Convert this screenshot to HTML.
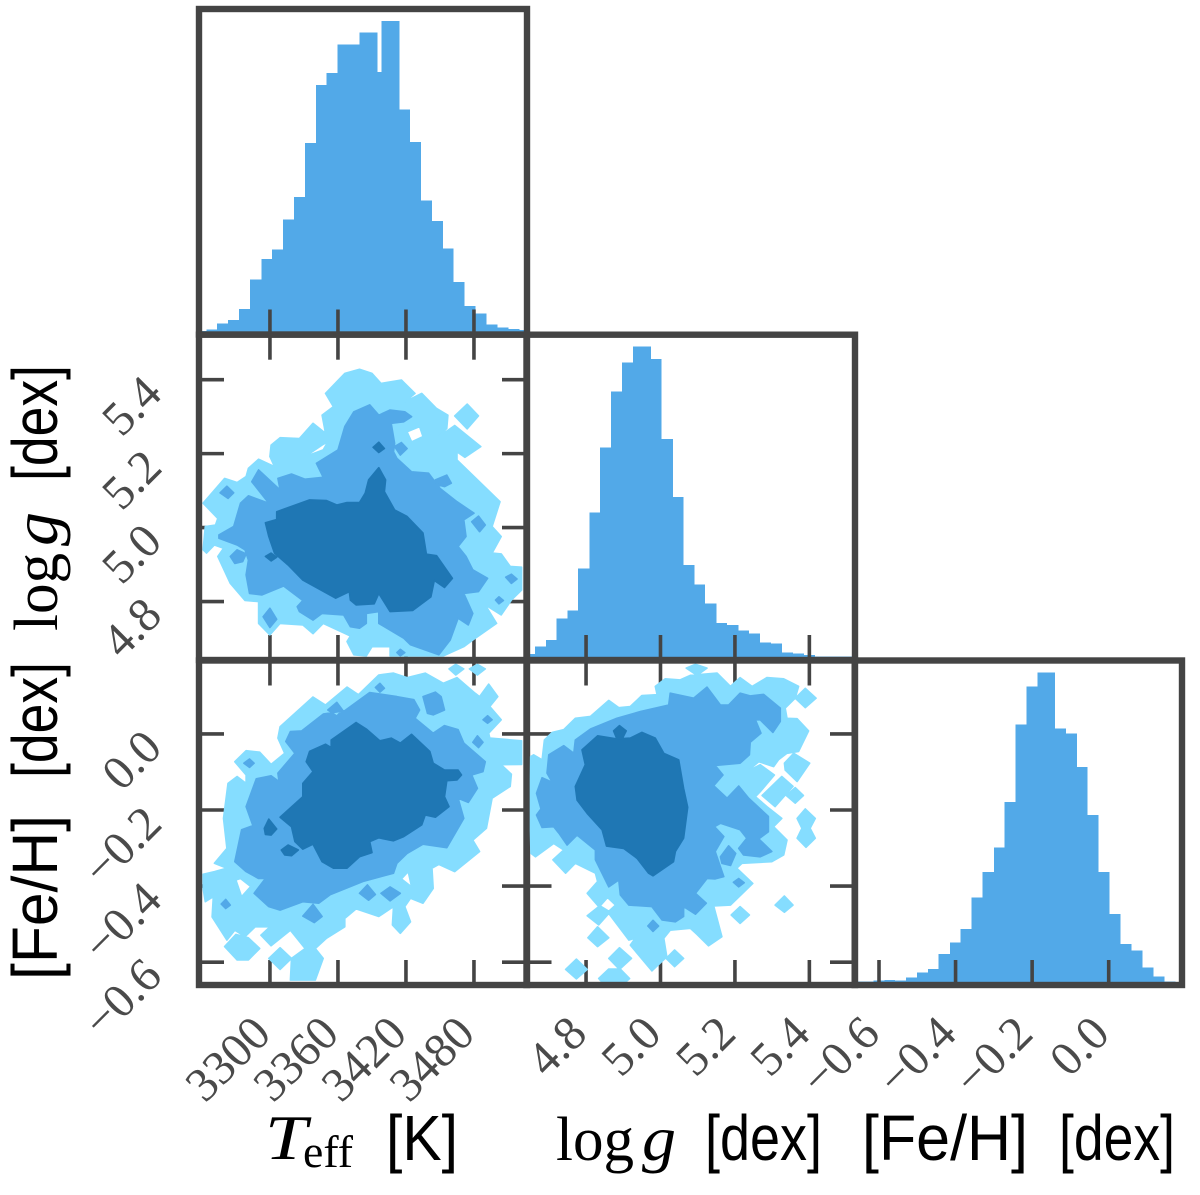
<!DOCTYPE html>
<html lang="en">
<head>
<meta charset="utf-8">
<title>Corner plot of stellar parameters</title>
<style>
html,body{margin:0;padding:0;background:#fff;}
svg{display:block;}
.tick-label{font-family:"Liberation Serif",serif;font-size:48px;fill:#4a4a4a;}
.title-sans{font-family:"Liberation Sans",sans-serif;font-size:64px;fill:#000;}
.title-serif{font-family:"Liberation Serif",serif;font-size:62px;fill:#000;}
.title-ital{font-family:"Liberation Serif",serif;font-size:64px;font-style:italic;fill:#000;}
.title-sub{font-family:"Liberation Serif",serif;font-size:46px;fill:#000;}
</style>
</head>
<body>
<svg id="chart" xmlns="http://www.w3.org/2000/svg" width="1200" height="1195" viewBox="0 0 1200 1195"></svg>
<script>
// ---- tick values and labels ----
const teffTicks = [3300, 3360, 3420, 3480];
const teffTickLabels = ["3300", "3360", "3420", "3480"];
const loggTicks = [4.8, 5.0, 5.2, 5.4];
const loggTickLabels = ["4.8", "5.0", "5.2", "5.4"];
const fehTicks = [-0.6, -0.4, -0.2, 0.0];
const fehTickLabels = ["\u22120.6", "\u22120.4", "\u22120.2", "0.0"];

// ---- histograms: bin edges (data units) and counts ----
const teffEdges = [3237.4,3244.1,3253.5,3263.2,3272.9,3282.6,3292.4,3301.8,3311.5,3321.2,3330.9,3340.6,3350,3359.7,3379.1,3394.7,3398.5,3414.1,3423.5,3433.2,3442.9,3452.6,3462,3471.8,3481.5,3491.2,3500.9,3510.3,3520,3526.8];
const teffCounts = [11,15,33,43,77,165,226,255,345,413,575,748,785,870,906,788,941,675,578,402,341,258,158,85,63,30,21,16,13];
const loggEdges = [4.64,4.663,4.692,4.72,4.75,4.779,4.809,4.838,4.867,4.897,4.926,4.974,5.003,5.033,5.062,5.091,5.12,5.15,5.179,5.209,5.238,5.267,5.297,5.326,5.356,5.385,5.415,5.444,5.474,5.523];
const loggCounts = [18,40,60,124,148,274,443,638,806,893,940,903,663,489,285,227,170,111,105,89,79,53,49,22,20,15,11,11,10];
const fehEdges = [-0.6636,-0.615,-0.586,-0.558,-0.529,-0.501,-0.472,-0.444,-0.415,-0.387,-0.358,-0.329,-0.3,-0.272,-0.244,-0.215,-0.186,-0.14,-0.111,-0.083,-0.055,-0.026,0.002,0.031,0.059,0.088,0.117,0.146,0.174,0.192];
const fehCounts = [10,14,15,14,22,38,48,93,128,168,262,339,412,549,782,896,937,770,754,654,510,339,213,123,104,53,26,10,8];

// ---- 2D credible regions: rings of [x value, y value] in data units ----
const teffLoggOuter = [
[[3241,5.066],[3260,5.133],[3271,5.122],[3279,5.138],[3281,5.16],[3290,5.185],[3304,5.165],[3300,5.192],[3301,5.223],[3309,5.243],[3326,5.241],[3338,5.282],[3349,5.255],[3346,5.304],[3356,5.327],[3349,5.363],[3366,5.417],[3379,5.428],[3390,5.417],[3398,5.39],[3416,5.399],[3428,5.363],[3419,5.34],[3434,5.363],[3447,5.322],[3457,5.304],[3456,5.268],[3449,5.246],[3463,5.276],[3486,5.219],[3472,5.19],[3465,5.205],[3465,5.183],[3503,5.07],[3496,5.003],[3504,4.976],[3496,4.931],[3504,4.929],[3512,4.895],[3522,4.893],[3522,4.831],[3513,4.804],[3504,4.764],[3490,4.791],[3500,4.741],[3479,4.696],[3471,4.678],[3453,4.653],[3406,4.653],[3406,4.678],[3390,4.678],[3385,4.653],[3374,4.656],[3368,4.692],[3371,4.707],[3347,4.741],[3338,4.713],[3329,4.737],[3309,4.741],[3300,4.71],[3290,4.741],[3290,4.8],[3278,4.803],[3265,4.849],[3254,4.922],[3259,4.944],[3251,4.953],[3244,4.931],[3241,4.94],[3243,5.003],[3252,5.007],[3254,5.025]],
[[3474,5.334],[3484,5.302],[3474,5.267],[3463,5.302]],
[[3421,5.259],[3432,5.273],[3435,5.246],[3425,5.232]],
[[3331,5.192],[3346,5.223],[3351,5.232],[3347,5.21]]
];
const teffLoggMiddle = [
[[3255,4.98],[3268,5.003],[3274,5.066],[3281,5.086],[3299,5.066],[3284,5.124],[3290,5.156],[3309,5.102],[3307,5.133],[3319,5.145],[3331,5.131],[3347,5.136],[3341,5.174],[3360,5.21],[3366,5.273],[3374,5.313],[3388,5.332],[3396,5.304],[3406,5.318],[3419,5.313],[3425,5.3],[3418,5.286],[3407,5.282],[3410,5.228],[3409,5.205],[3412,5.187],[3425,5.151],[3440,5.147],[3450,5.106],[3465,5.07],[3480,5.039],[3471,5.021],[3473,4.976],[3466,4.949],[3473,4.922],[3479,4.886],[3492,4.863],[3484,4.827],[3471,4.822],[3479,4.768],[3475,4.737],[3466,4.755],[3459,4.696],[3449,4.656],[3424,4.683],[3418,4.701],[3396,4.741],[3396,4.773],[3385,4.768],[3385,4.741],[3379,4.728],[3371,4.732],[3365,4.764],[3346,4.768],[3338,4.75],[3326,4.773],[3324,4.786],[3329,4.803],[3312,4.842],[3293,4.818],[3282,4.822],[3279,4.872],[3281,4.912],[3278,4.94],[3271,4.953],[3255,4.971]],
[[3265,4.922],[3271,4.94],[3279,4.929],[3276,4.908],[3269,4.903]],
[[3256,5.094],[3262,5.112],[3268,5.094],[3263,5.079]],
[[3410,5.219],[3416,5.23],[3421,5.214],[3415,5.196]],
[[3446,5.129],[3456,5.142],[3460,5.12],[3454,5.111],[3449,5.115]],
[[3478,5.016],[3484,5.031],[3490,5.007],[3485,4.989]],
[[3508,4.866],[3513,4.874],[3518,4.861],[3513,4.849]],
[[3499,4.804],[3502,4.813],[3506,4.803],[3502,4.794]],
[[3294,4.759],[3300,4.782],[3306,4.752],[3300,4.73]],
[[3412,4.662],[3415,4.671],[3419,4.662],[3415,4.653]]
];
const teffLoggInner = [
[[3296,5.013],[3306,5.022],[3306,5.043],[3335,5.075],[3350,5.073],[3359,5.061],[3368,5.068],[3379,5.068],[3384,5.093],[3387,5.129],[3396,5.162],[3402,5.129],[3401,5.097],[3410,5.048],[3421,5.03],[3435,4.985],[3438,4.928],[3447,4.924],[3461,4.863],[3454,4.838],[3445,4.857],[3442,4.813],[3426,4.776],[3406,4.773],[3396,4.822],[3392,4.794],[3376,4.791],[3371,4.804],[3370,4.827],[3358,4.809],[3329,4.858],[3316,4.899],[3304,4.931],[3299,4.976]],
[[3391,5.217],[3396,5.231],[3401,5.214],[3396,5.203]],
[[3296,4.922],[3301,4.931],[3306,4.92],[3301,4.91]]
];

const teffFehOuter = [
[[3241,-0.369],[3251,-0.362],[3262,-0.353],[3251,-0.34],[3262,-0.301],[3259,-0.222],[3263,-0.13],[3271,-0.112],[3279,-0.13],[3279,-0.108],[3269,-0.073],[3279,-0.044],[3291,-0.048],[3301,-0.08],[3313,-0.051],[3307,-0.011],[3309,0.019],[3338,0.097],[3349,0.076],[3368,0.123],[3378,0.103],[3396,0.155],[3409,0.16],[3421,0.148],[3437,0.16],[3453,0.133],[3465,0.148],[3481,0.107],[3485,0.098],[3493,0.131],[3501,0.098],[3494,0.072],[3504,0.037],[3493,0.002],[3494,-0.011],[3522,-0.018],[3522,-0.08],[3504,-0.081],[3513,-0.106],[3512,-0.138],[3496,-0.169],[3491,-0.248],[3479,-0.279],[3485,-0.309],[3463,-0.362],[3449,-0.343],[3443,-0.353],[3444,-0.406],[3435,-0.445],[3424,-0.432],[3419,-0.454],[3424,-0.494],[3415,-0.524],[3408,-0.502],[3409,-0.454],[3396,-0.48],[3376,-0.46],[3366,-0.485],[3366,-0.507],[3350,-0.537],[3340,-0.564],[3347,-0.59],[3340,-0.647],[3318,-0.647],[3319,-0.59],[3331,-0.564],[3318,-0.516],[3301,-0.557],[3292,-0.529],[3300,-0.507],[3293,-0.507],[3287,-0.507],[3278,-0.533],[3269,-0.516],[3262,-0.542],[3249,-0.481],[3250,-0.428],[3243,-0.441],[3241,-0.406]],
[[3260,-0.559],[3270,-0.527],[3281,-0.536],[3291,-0.564],[3281,-0.594],[3271,-0.594]],
[[3299,-0.59],[3309,-0.562],[3319,-0.59],[3309,-0.619]],
[[3458,0.171],[3464,0.183],[3471,0.171],[3464,0.155]],
[[3476,0.171],[3483,0.183],[3490,0.171],[3483,0.155]],
[[3270,-0.384],[3274,-0.38],[3283,-0.401],[3275,-0.428]],
[[3416,-0.381],[3422,-0.362],[3425,-0.402]]
];
const teffFehMiddle = [
[[3269,-0.336],[3275,-0.252],[3285,-0.241],[3279,-0.191],[3288,-0.118],[3301,-0.11],[3308,-0.125],[3307,-0.103],[3322,-0.051],[3314,-0.02],[3318,0.006],[3328,0.008],[3347,0.052],[3366,0.061],[3388,0.109],[3412,0.098],[3427,0.09],[3432,0.063],[3428,0.041],[3444,0.002],[3454,0.022],[3466,0.011],[3471,-0.024],[3490,-0.073],[3488,-0.099],[3478,-0.108],[3483,-0.143],[3475,-0.18],[3466,-0.169],[3471,-0.222],[3456,-0.299],[3435,-0.29],[3421,-0.314],[3412,-0.34],[3409,-0.366],[3382,-0.388],[3353,-0.423],[3343,-0.445],[3329,-0.441],[3309,-0.463],[3299,-0.454],[3286,-0.419],[3296,-0.38],[3290,-0.38],[3279,-0.362]],
[[3351,0.063],[3359,0.083],[3364,0.063],[3359,0.047]],
[[3435,0.098],[3446,0.11],[3451,0.098],[3454,0.063],[3444,0.05],[3439,0.054]],
[[3479,-0.022],[3483,-0.005],[3488,-0.022],[3484,-0.036]],
[[3488,0.037],[3492,0.048],[3496,0.037],[3492,0.028]],
[[3277,-0.077],[3282,-0.066],[3286,-0.077],[3282,-0.088]],
[[3393,0.122],[3397,0.133],[3401,0.12],[3397,0.11]],
[[3257,-0.447],[3261,-0.435],[3265,-0.45],[3261,-0.459]],
[[3379,-0.419],[3386,-0.397],[3393,-0.422],[3387,-0.437]],
[[3398,-0.419],[3406,-0.402],[3415,-0.419],[3406,-0.439]],
[[3329,-0.479],[3338,-0.448],[3346,-0.48],[3339,-0.496]]
];
const teffFehInner = [
[[3309,-0.219],[3329,-0.165],[3329,-0.13],[3338,-0.099],[3332,-0.073],[3335,-0.046],[3349,-0.027],[3354,-0.036],[3354,-0.016],[3376,0.03],[3385,0.013],[3397,-0.018],[3407,-0.011],[3415,-0.024],[3425,-0.001],[3441,-0.046],[3444,-0.077],[3454,-0.095],[3466,-0.095],[3469,-0.108],[3465,-0.121],[3456,-0.123],[3454,-0.165],[3458,-0.191],[3446,-0.219],[3437,-0.213],[3434,-0.239],[3418,-0.27],[3409,-0.281],[3396,-0.273],[3388,-0.283],[3390,-0.312],[3379,-0.323],[3368,-0.353],[3356,-0.353],[3346,-0.336],[3338,-0.29],[3329,-0.303],[3322,-0.283],[3319,-0.244]],
[[3295,-0.248],[3299,-0.224],[3306,-0.25],[3301,-0.266],[3296,-0.264]],
[[3310,-0.305],[3316,-0.292],[3325,-0.305],[3319,-0.32],[3313,-0.318]]
];

const loggFehOuter = [
[[4.651,-0.06],[4.659,-0.055],[4.682,-0.068],[4.688,-0.016],[4.709,0.004],[4.74,0.011],[4.771,0.041],[4.812,0.046],[4.861,0.088],[4.888,0.069],[4.919,0.072],[4.95,0.101],[4.991,0.103],[4.986,0.125],[5.013,0.145],[5.053,0.142],[5.08,0.154],[5.152,0.16],[5.188,0.125],[5.214,0.148],[5.246,0.125],[5.286,0.148],[5.331,0.145],[5.371,0.125],[5.362,0.094],[5.335,0.068],[5.34,0.041],[5.367,0.04],[5.398,0.008],[5.371,-0.046],[5.34,-0.051],[5.317,-0.068],[5.304,-0.086],[5.264,-0.073],[5.232,-0.099],[5.268,-0.081],[5.306,-0.108],[5.268,-0.152],[5.255,-0.165],[5.286,-0.191],[5.326,-0.222],[5.304,-0.244],[5.34,-0.279],[5.331,-0.318],[5.299,-0.336],[5.219,-0.34],[5.205,-0.353],[5.248,-0.393],[5.188,-0.45],[5.143,-0.452],[5.165,-0.533],[5.129,-0.557],[5.098,-0.527],[5.08,-0.511],[5.026,-0.516],[5.009,-0.537],[5.017,-0.586],[4.977,-0.623],[4.919,-0.555],[4.932,-0.537],[4.915,-0.542],[4.861,-0.472],[4.834,-0.502],[4.803,-0.478],[4.834,-0.454],[4.803,-0.419],[4.831,-0.388],[4.825,-0.366],[4.771,-0.34],[4.745,-0.366],[4.711,-0.331],[4.74,-0.305],[4.713,-0.288],[4.664,-0.323],[4.652,-0.314],[4.649,-0.213]],
[[4.838,-0.452],[4.858,-0.43],[4.879,-0.45],[4.861,-0.466]],
[[5.333,-0.077],[5.358,-0.051],[5.401,-0.077],[5.367,-0.125],[5.335,-0.095]],
[[5.273,-0.162],[5.326,-0.112],[5.356,-0.138],[5.308,-0.191]],
[[5.338,-0.162],[5.362,-0.141],[5.384,-0.162],[5.362,-0.182]],
[[5.367,-0.222],[5.389,-0.197],[5.416,-0.222],[5.402,-0.248],[5.416,-0.274],[5.391,-0.298],[5.367,-0.274],[5.38,-0.248]],
[[5.362,0.094],[5.389,0.12],[5.418,0.094],[5.389,0.069]],
[[5.308,-0.45],[5.333,-0.426],[5.356,-0.45],[5.333,-0.469]],
[[5.19,-0.476],[5.214,-0.454],[5.239,-0.476],[5.214,-0.498]],
[[4.805,-0.536],[4.831,-0.507],[4.861,-0.536],[4.831,-0.559]],
[[4.861,-0.59],[4.89,-0.562],[4.922,-0.59],[4.89,-0.619]],
[[5.015,-0.59],[5.038,-0.568],[5.062,-0.59],[5.038,-0.612]],
[[4.745,-0.619],[4.774,-0.592],[4.803,-0.619],[4.774,-0.644]],
[[4.834,-0.643],[4.861,-0.618],[4.892,-0.618],[4.917,-0.643],[4.906,-0.653],[4.843,-0.653]],
[[5.069,0.173],[5.094,0.183],[5.125,0.173],[5.098,0.154]]
];
const loggFehMiddle = [
[[4.667,-0.156],[4.682,-0.115],[4.709,-0.127],[4.695,-0.103],[4.7,-0.055],[4.74,-0.031],[4.767,-0.051],[4.771,-0.016],[4.812,0.013],[4.883,0.041],[4.946,0.059],[5.022,0.076],[5.026,0.107],[5.089,0.094],[5.125,0.123],[5.161,0.076],[5.183,0.076],[5.214,0.107],[5.241,0.1],[5.277,0.104],[5.322,0.068],[5.322,0.033],[5.302,0.004],[5.268,0.037],[5.255,0.037],[5.27,0.002],[5.241,-0.022],[5.239,-0.055],[5.214,-0.077],[5.147,-0.083],[5.168,-0.108],[5.143,-0.136],[5.179,-0.169],[5.21,-0.137],[5.237,-0.169],[5.29,-0.217],[5.29,-0.257],[5.264,-0.276],[5.299,-0.309],[5.268,-0.323],[5.223,-0.318],[5.21,-0.301],[5.232,-0.274],[5.214,-0.252],[5.161,-0.235],[5.145,-0.244],[5.17,-0.27],[5.147,-0.309],[5.161,-0.349],[5.17,-0.375],[5.147,-0.381],[5.125,-0.38],[5.094,-0.419],[5.123,-0.445],[5.094,-0.474],[5.062,-0.454],[5.062,-0.48],[5.04,-0.494],[5.004,-0.489],[4.977,-0.454],[4.915,-0.45],[4.892,-0.423],[4.888,-0.384],[4.861,-0.402],[4.825,-0.331],[4.825,-0.305],[4.776,-0.266],[4.749,-0.292],[4.727,-0.261],[4.713,-0.244],[4.682,-0.246],[4.667,-0.213],[4.679,-0.197]],
[[5.161,-0.323],[5.183,-0.294],[5.202,-0.314],[5.188,-0.346],[5.165,-0.34]],
[[5.196,-0.39],[5.21,-0.38],[5.225,-0.391],[5.21,-0.402]],
[[4.966,-0.505],[4.98,-0.49],[4.995,-0.505],[4.98,-0.519]]
];
const loggFehInner = [
[[4.771,-0.138],[4.798,-0.081],[4.789,-0.042],[4.831,-0.005],[4.883,-0.013],[4.919,-0.011],[4.95,0.004],[4.986,-0.011],[5.009,-0.051],[5.049,-0.068],[5.062,-0.143],[5.073,-0.193],[5.062,-0.274],[5.04,-0.309],[5.035,-0.336],[4.98,-0.373],[4.968,-0.366],[4.937,-0.327],[4.901,-0.301],[4.855,-0.295],[4.843,-0.252],[4.803,-0.209],[4.776,-0.174]],
[[4.874,0.008],[4.89,0.022],[4.908,0.008],[4.897,-0.013],[4.883,-0.013]]
];

// ---- rendering ----
const NS = 'http://www.w3.org/2000/svg';
const svg = document.getElementById('chart');
const INK = '#444444';
const LIGHT = '#85DDFF';
const MID = '#52A9E8';
const DARK = '#1F77B4';
const TICK_LEN = 25;

function linear(d0, d1, r0, r1) {
  return function (v) { return r0 + (v - d0) * (r1 - r0) / (d1 - d0); };
}
function node(tag, attrs) {
  const el = document.createElementNS(NS, tag);
  for (const k in attrs) el.setAttribute(k, attrs[k]);
  return el;
}

// pixel boxes of the grid columns and rows
const colBoxes = [[199, 527], [526.5, 855], [854.7, 1182]];
const rowBoxes = [[9, 334.5], [334.7, 660], [660.5, 985]];

const xTeff = linear(3237.4, 3526.8, colBoxes[0][0], colBoxes[0][1]);
const xLogg = linear(4.64, 5.5226, colBoxes[1][0], colBoxes[1][1]);
const xFeh = linear(-0.6635, 0.1915, colBoxes[2][0], colBoxes[2][1]);
const yLogg = linear(5.5216, 4.642, rowBoxes[1][0], rowBoxes[1][1]);
const yFeh = linear(0.193, -0.66, rowBoxes[2][0], rowBoxes[2][1]);
const COUNT_PER_PX = 3;

function drawHist(group, edges, counts, xScale, baseY) {
  for (let i = 0; i < counts.length; i++) {
    const x0 = xScale(edges[i]);
    const x1 = xScale(edges[i + 1]);
    const h = counts[i] / COUNT_PER_PX;
    const bar = node('rect', { x: x0, y: baseY - h, width: x1 - x0, height: h, fill: MID, 'shape-rendering': 'crispEdges' });
    
    
    group.appendChild(bar);
  }
}

function ringsToPath(rings, xScale, yScale) {
  return rings.map(function (ring) {
    return 'M' + ring.map(function (p) {
      return xScale(p[0]).toFixed(1) + ' ' + yScale(p[1]).toFixed(1);
    }).join('L') + 'Z';
  }).join('');
}

function drawContour(group, rings, xScale, yScale, color) {
  const path = node('path', { d: ringsToPath(rings, xScale, yScale), fill: color, stroke: color, 'stroke-width': 1.6, 'fill-rule': 'evenodd', 'stroke-linejoin': 'round' });
  
  
  group.appendChild(path);
}

function vTick(group, x, y0, y1) {
  const t = node('line', { x1: x, x2: x, y1: y0, y2: y1, stroke: INK, 'stroke-width': 3.6 });
  
  
  group.appendChild(t);
}
function hTick(group, y, x0, x1) {
  const t = node('line', { x1: x0, x2: x1, y1: y, y2: y, stroke: INK, 'stroke-width': 3.6 });
  
  
  group.appendChild(t);
}
function frame(group, col, row) {
  const r = node('rect', { x: col[0], y: row[0], width: col[1] - col[0], height: row[1] - row[0], fill: 'none', stroke: INK, 'stroke-width': 6.4, 'stroke-linejoin': 'miter' });
  
  
  group.appendChild(r);
}

function histPanel(name, col, row, edges, counts, xScale, xTicks) {
  const g = node('g', {});
  
  
  svg.appendChild(g);
  drawHist(g, edges, counts, xScale, row[1]);
  xTicks.forEach(function (v) { vTick(g, xScale(v), row[1], row[1] - TICK_LEN); });
  frame(g, col, row);
}

function jointPanel(name, col, row, xScale, yScale, xTicks, yTicks, outer, middle, inner) {
  const g = node('g', {});
  
  
  svg.appendChild(g);
  xTicks.forEach(function (v) {
    vTick(g, xScale(v), row[1], row[1] - TICK_LEN);
    vTick(g, xScale(v), row[0], row[0] + TICK_LEN);
  });
  yTicks.forEach(function (v) {
    hTick(g, yScale(v), col[0], col[0] + TICK_LEN);
    hTick(g, yScale(v), col[1], col[1] - TICK_LEN);
  });
  drawContour(g, outer, xScale, yScale, LIGHT);
  drawContour(g, middle, xScale, yScale, MID);
  drawContour(g, inner, xScale, yScale, DARK);
  frame(g, col, row);
}

histPanel('teff-histogram-panel', colBoxes[0], rowBoxes[0], teffEdges, teffCounts, xTeff, teffTicks);
histPanel('logg-histogram-panel', colBoxes[1], rowBoxes[1], loggEdges, loggCounts, xLogg, loggTicks);
histPanel('feh-histogram-panel', colBoxes[2], rowBoxes[2], fehEdges, fehCounts, xFeh, fehTicks);
jointPanel('teff-logg-contour-panel', colBoxes[0], rowBoxes[1], xTeff, yLogg, teffTicks, loggTicks, teffLoggOuter, teffLoggMiddle, teffLoggInner);
jointPanel('teff-feh-contour-panel', colBoxes[0], rowBoxes[2], xTeff, yFeh, teffTicks, fehTicks, teffFehOuter, teffFehMiddle, teffFehInner);
jointPanel('logg-feh-contour-panel', colBoxes[1], rowBoxes[2], xLogg, yFeh, loggTicks, fehTicks, loggFehOuter, loggFehMiddle, loggFehInner);

function xTickLabels(values, labels, xScale) {
  values.forEach(function (v, i) {
    const ax = xScale(v) + 3;
    const ay = 1036;
    const t = node('text', { x: ax, y: ay, 'text-anchor': 'end', transform: 'rotate(-45 ' + ax + ' ' + ay + ')', 'class': 'tick-label' });
    
    
    t.textContent = labels[i];
    svg.appendChild(t);
  });
}
function yTickLabels(values, labels, yScale) {
  values.forEach(function (v, i) {
    const ax = 164;
    const ay = yScale(v) + 16;
    const t = node('text', { x: ax, y: ay, 'text-anchor': 'end', transform: 'rotate(-45 ' + ax + ' ' + ay + ')', 'class': 'tick-label' });
    
    
    t.textContent = labels[i];
    svg.appendChild(t);
  });
}
xTickLabels(teffTicks, teffTickLabels, xTeff);
xTickLabels(loggTicks, loggTickLabels, xLogg);
xTickLabels(fehTicks, fehTickLabels, xFeh);
yTickLabels(loggTicks, loggTickLabels, yLogg);
yTickLabels(fehTicks, fehTickLabels, yFeh);
</script>

<script>
// ---- axis titles ----
(function () {
  function title(cls, x, y, text, len, rot, name) {
    const t = node('text', { x: x, y: y, 'class': cls });
    if (len) { t.setAttribute('textLength', len); t.setAttribute('lengthAdjust', 'spacingAndGlyphs'); }
    if (rot) t.setAttribute('transform', 'rotate(-90 ' + x + ' ' + y + ')');
    
    
    t.textContent = text;
    svg.appendChild(t);
  }
  // x axis titles
  title('title-ital', 265, 1159, 'T', 42, false, 'teff-title-symbol');
  title('title-sub', 303, 1167, 'eff', 50, false, 'teff-title-subscript');
  title('title-sans', 386, 1160, '[K]', 72, false, 'teff-title-unit');
  title('title-serif', 556, 1160, 'log', 78, false, 'logg-title-log');
  title('title-ital', 642, 1160, 'g', 34, false, 'logg-title-g');
  title('title-sans', 705, 1160, '[dex]', 117, false, 'logg-title-unit');
  title('title-sans', 862, 1160, '[Fe/H]', 166, false, 'feh-title-label');
  title('title-sans', 1059, 1160, '[dex]', 116, false, 'feh-title-unit');
  // y axis titles
  title('title-serif', 57, 631, 'log', 78, true, 'logg-y-title-log');
  title('title-ital', 57, 546, 'g', 34, true, 'logg-y-title-g');
  title('title-sans', 57, 481, '[dex]', 116, true, 'logg-y-title-unit');
  title('title-sans', 57, 980, '[Fe/H]', 165, true, 'feh-y-title-label');
  title('title-sans', 57, 778, '[dex]', 116, true, 'feh-y-title-unit');
})();
</script>
</body>
</html>
